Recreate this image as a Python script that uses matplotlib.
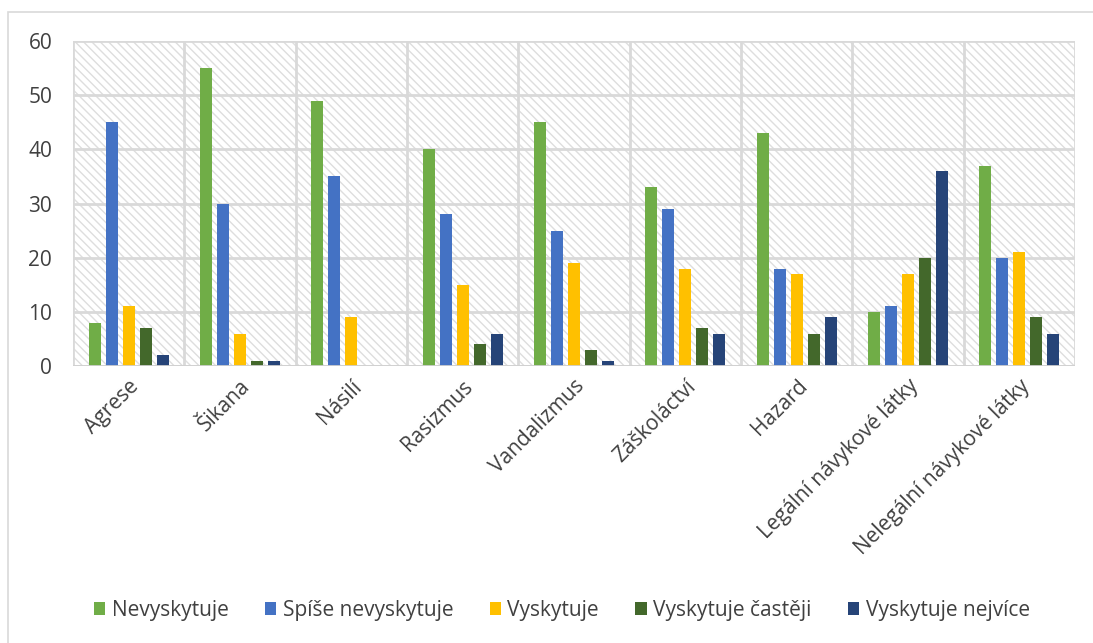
import numpy as np
import matplotlib
matplotlib.use("Agg")
import matplotlib.pyplot as plt
from matplotlib.patches import Rectangle

kategorie = ["Agrese", "Šikana", "Násilí", "Rasizmus", "Vandalizmus", "Záškoláctví",
             "Hazard", "Legální návykové látky", "Nelegální návykové látky"]
serie = ["Nevyskytuje", "Spíše nevyskytuje", "Vyskytuje", "Vyskytuje častěji", "Vyskytuje nejvíce"]
nevyskytuje = [8, 55, 49, 40, 45, 33, 43, 10, 37]
spise_nevyskytuje = [45, 30, 35, 28, 25, 29, 18, 11, 20]
vyskytuje = [11, 6, 9, 15, 19, 18, 17, 17, 21]
vyskytuje_casteji = [7, 1, 0, 4, 3, 7, 6, 20, 9]
vyskytuje_nejvice = [2, 1, 0, 6, 1, 6, 9, 36, 6]
barvy = ["#70AD47", "#4472C4", "#FFC000", "#43682B", "#264478"]

hodnoty = [nevyskytuje, spise_nevyskytuje, vyskytuje, vyskytuje_casteji, vyskytuje_nejvice]

plt.rcParams['font.family'] = ['Open Sans', 'DejaVu Sans']
plt.rcParams['hatch.linewidth'] = 1.0

fig = plt.figure(figsize=(10.93, 6.43), dpi=100)
# ramecek grafu
fig.patches.append(Rectangle((8/1093, -0.01), 1.1, 1 - 12/643 + 0.01, transform=fig.transFigure,
                             fill=False, edgecolor="#d9d9d9", lw=1.2))

ax = fig.add_axes([73/1093, 1 - 366/643, (1075 - 73)/1093, (366 - 41)/643])
x = np.arange(len(kategorie))
sirka = 0.108
krok = 0.153
for i, (h, b, nazev) in enumerate(zip(hodnoty, barvy, serie)):
    ax.bar(x + (i - 2) * krok, h, width=sirka, color=b, label=nazev, zorder=3)

ax.set_xlim(-0.5, len(kategorie) - 0.5)
ax.set_ylim(0, 60)
ax.set_yticks(range(0, 61, 10))

# srafovane pozadi
ax.add_patch(Rectangle((-0.5, 0), len(kategorie), 60, hatch="\\\\\\\\", fill=False,
                       edgecolor="#dedede", lw=0, zorder=0))

ax.grid(axis="y", color="#d9d9d9", lw=2, zorder=1)
for k in range(len(kategorie) + 1):
    ax.axvline(k - 0.5, color="#d9d9d9", lw=2, zorder=1)
ax.axhline(0, color="#d0d0d0", lw=2, zorder=4)

for s in ax.spines.values():
    s.set_visible(False)
ax.tick_params(length=0, labelsize=15, colors="#404040")
ax.tick_params(axis="y", pad=15)
ax.set_xticks(x)
ax.set_xticklabels(kategorie, rotation=45, ha="right", rotation_mode="anchor")
ax.tick_params(axis="x", pad=7)

fig.legend(loc="lower center", bbox_to_anchor=(0.514, 0.005), ncol=5, frameon=False,
           fontsize=15, handlelength=0.55, handleheight=0.55, handletextpad=0.3,
           columnspacing=1.75, labelcolor="#404040")

fig.savefig("out.png", dpi=100)
